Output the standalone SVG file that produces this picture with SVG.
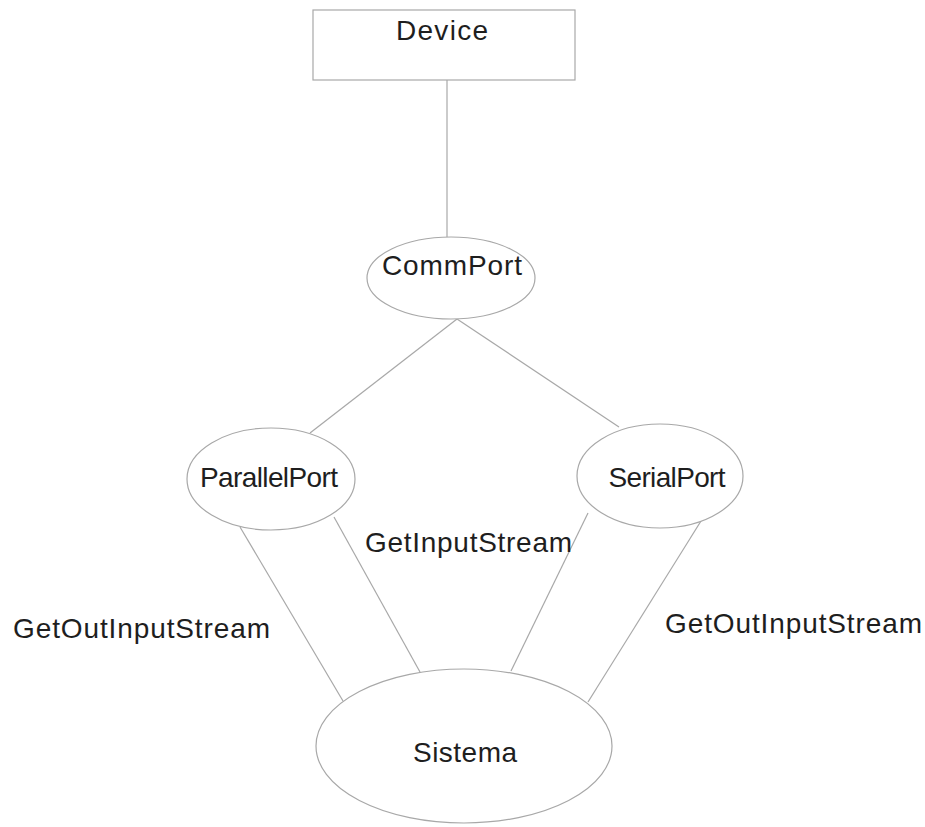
<svg xmlns="http://www.w3.org/2000/svg" width="925" height="827" viewBox="0 0 925 827">
  <style>
    .box { fill: #ffffff; stroke: #a8a8a8; stroke-width: 1.2; }
    .edge { stroke: #a8a8a8; stroke-width: 1.2; fill: none; }
    .lbl { font-family: "Liberation Sans", Arial, sans-serif; font-size: 28px; fill: #1e1e1e; }
  </style>
  <rect width="925" height="827" fill="#ffffff"/>

  <g id="connectors">
    <line class="edge" x1="447" y1="80" x2="447" y2="237"/>
    <line class="edge" x1="457" y1="319" x2="310" y2="433"/>
    <line class="edge" x1="457" y1="319" x2="619" y2="427"/>
    <line class="edge" x1="240" y1="527" x2="343" y2="701"/>
    <line class="edge" x1="334" y1="517" x2="420" y2="672"/>
    <line class="edge" x1="588" y1="513" x2="511" y2="671"/>
    <line class="edge" x1="701" y1="521" x2="588" y2="702"/>
  </g>

  <g id="device">
    <rect class="box" x="313" y="10" width="262" height="70"/>
    <text class="lbl" x="442" y="40" text-anchor="middle" textLength="92">Device</text>
  </g>

  <g id="commport">
    <ellipse class="box" cx="451" cy="278" rx="84" ry="41"/>
    <text class="lbl" x="452" y="275" text-anchor="middle" textLength="140">CommPort</text>
  </g>

  <g id="parallelport">
    <ellipse class="box" cx="271" cy="479" rx="84" ry="51"/>
    <text class="lbl" x="269" y="487" text-anchor="middle" textLength="138">ParallelPort</text>
  </g>

  <g id="serialport">
    <ellipse class="box" cx="660" cy="476" rx="83" ry="52"/>
    <text class="lbl" x="667" y="487" text-anchor="middle" textLength="117">SerialPort</text>
  </g>

  <g id="sistema">
    <ellipse class="box" cx="464" cy="746" rx="148" ry="77"/>
    <text class="lbl" x="465" y="762" text-anchor="middle" textLength="104">Sistema</text>
  </g>

  <g id="edge-labels">
    <text class="lbl" x="13" y="638" textLength="257">GetOutInputStream</text>
    <text class="lbl" x="365" y="552" textLength="207">GetInputStream</text>
    <text class="lbl" x="665" y="633" textLength="257">GetOutInputStream</text>
  </g>
</svg>
